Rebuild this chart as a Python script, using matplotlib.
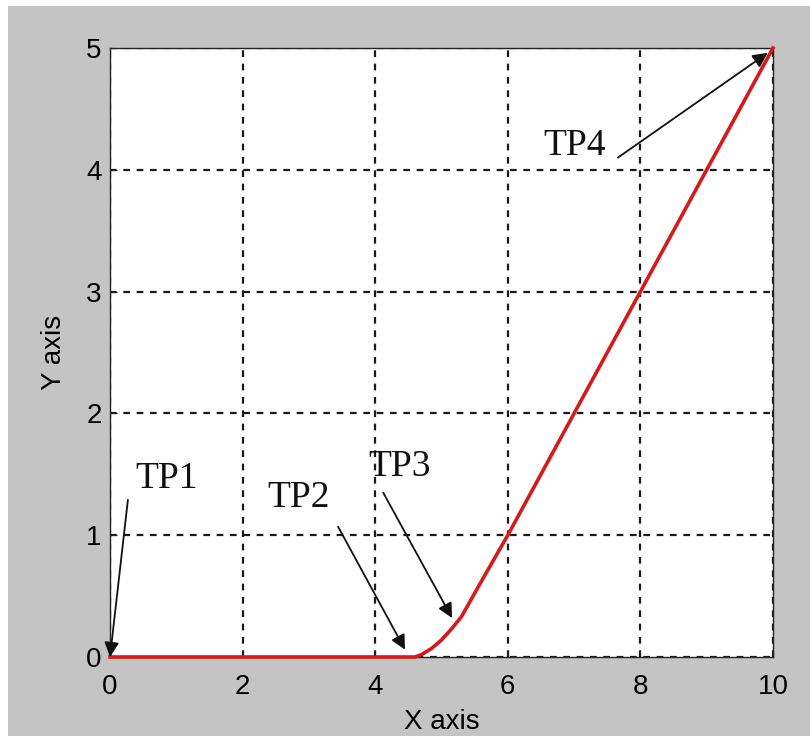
import matplotlib.pyplot as plt
from matplotlib.patches import Rectangle

# curve
x_vals = [0, 4.6, 4.7, 4.85, 5.0, 5.15, 5.3, 5.6, 6.0, 8.0, 10.0]
y_vals = [0, 0, 0.02, 0.07, 0.14, 0.23, 0.33, 0.62, 1.0, 3.0, 5.0]

x_ticks = [0, 2, 4, 6, 8, 10]
y_ticks = [0, 1, 2, 3, 4, 5]

labels = ['TP1', 'TP2', 'TP3', 'TP4']
label_pos = [(0.38, 1.39), (2.37, 1.23), (3.89, 1.49), (6.53, 4.12)]
arrow_tail = [(0.27, 1.29), (3.44, 1.07), (4.12, 1.35), (7.66, 4.10)]
arrow_head = [(0.0, 0.0), (4.45, 0.06), (5.16, 0.32), (9.92, 4.96)]

fig = plt.figure(figsize=(8.1, 7.36), dpi=100)
fig.patch.set_facecolor('white')
fig.add_artist(Rectangle((8 / 810, 0), 1, 1 - 6 / 736, transform=fig.transFigure,
                         facecolor='#c4c4c4', edgecolor='none', zorder=0))

ax = fig.add_axes([110 / 810, 1 - 657 / 736, 663 / 810, 609 / 736])
ax.set_facecolor('white')
ax.set_xlim(0, 10)
ax.set_ylim(0, 5)

ax.grid(True, color='#1a1a1a', linestyle=(0, (3, 3)), linewidth=1.6)
ax.set_axisbelow(True)
for s in ax.spines.values():
    s.set_color('#222222')
    s.set_linewidth(1.0)

ax.set_xticks(x_ticks)
ax.set_yticks(y_ticks)
ax.set_xticklabels([str(t) for t in x_ticks], family='Liberation Sans', fontsize=20)
ax.set_yticklabels([str(t) for t in y_ticks], family='Liberation Sans', fontsize=20)
ax.tick_params(direction='in', length=5, color='#222222')
ax.tick_params(axis='x', pad=12)
ax.tick_params(axis='y', pad=6)

ax.set_xlabel('X axis', family='Liberation Sans', fontsize=20, labelpad=7)
ax.set_ylabel('Y axis', family='Liberation Sans', fontsize=20, labelpad=14)

ax.plot(x_vals, y_vals, color='#d41a1a', linewidth=2.6, zorder=3, clip_on=False)

for lab, pos in zip(labels, label_pos):
    ax.text(pos[0], pos[1], lab, family='Liberation Serif', fontsize=27,
            color='#111111', ha='left', va='baseline', zorder=5)

for tail, head in zip(arrow_tail, arrow_head):
    ax.annotate('', xy=head, xytext=tail,
                arrowprops=dict(arrowstyle='-|>', color='#111111', lw=1.3,
                                mutation_scale=22, shrinkA=0, shrinkB=0),
                zorder=4, annotation_clip=False)

plt.savefig('out.png', dpi=100, facecolor=fig.get_facecolor())
